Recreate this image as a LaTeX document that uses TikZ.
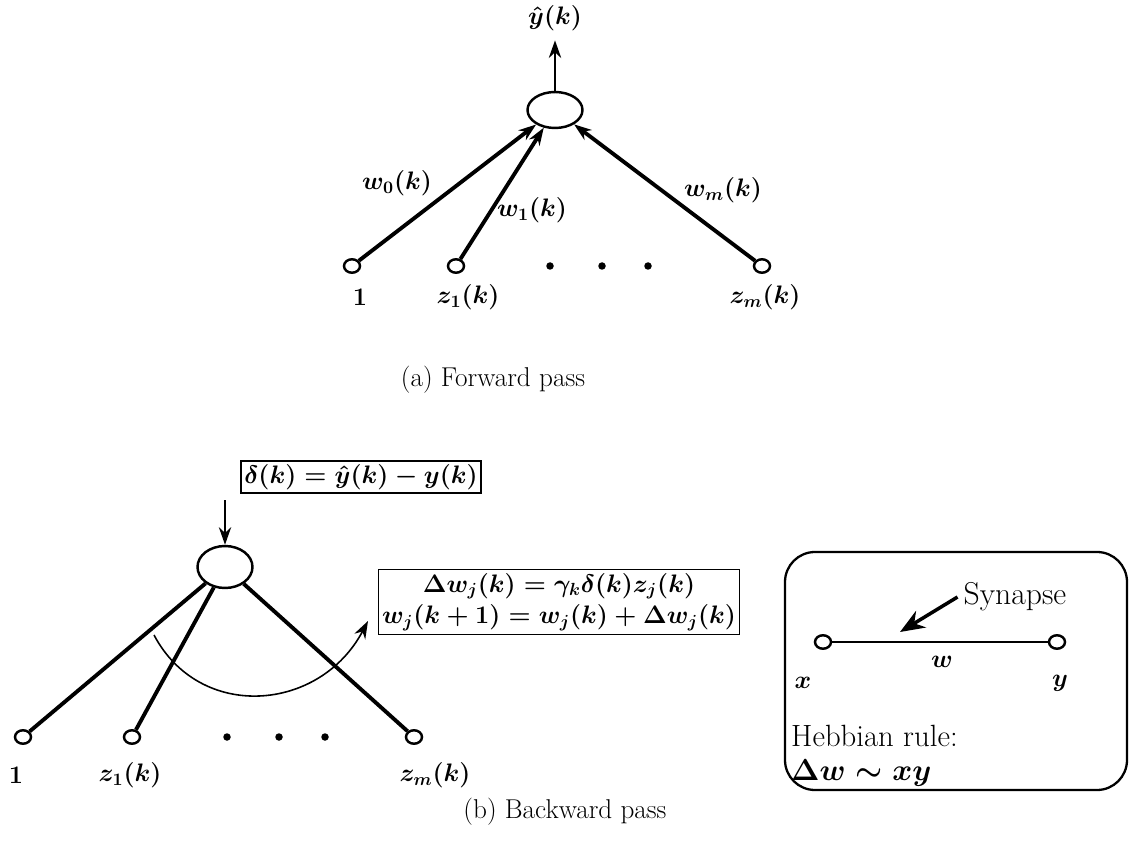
\documentclass[tikz,border=0pt]{standalone}
\usetikzlibrary{shapes.geometric,arrows.meta}
\tikzset{
    neuron/.style={draw, ellipse, line width=1.4pt, minimum width=1.1cm, minimum height=0.72cm, inner sep=0pt},
    inp/.style={draw, ellipse, line width=1.4pt, minimum width=0.32cm, minimum height=0.27cm, inner sep=0pt},
    blob/.style={circle, fill, inner sep=0pt, minimum size=0.15cm},
    link/.style={line width=2.2pt},
    eqbox/.style={draw, line width=1pt, inner sep=2pt},
    tip/.style={-{Stealth[length=10pt,width=7pt]}},
    caption/.style={font=\fontsize{15.5}{18}\selectfont}
}
\begin{document}
\begin{tikzpicture}[x=0.02cm, y=-0.02cm, every node/.style={font=\fontsize{14}{18}\selectfont\boldmath}]
    \useasboundingbox (0,0) rectangle (1130,841);

    %forward pass
    \node[neuron] (out) at (555,110) {};
    \node (yhat) at (555,18) {$\hat{y}(k)$};
    \draw[line width=1.6pt, tip, shorten >=2pt] (out) -- (yhat);

    \node[inp] (a0) at (352,266) {};
    \node[inp] (a1) at (456,266) {};
    \node[inp] (am) at (762,266) {};
    \foreach \x in {550,602,648}
        \node[blob] (ad\x) at (\x,266) {};

    \draw[link, tip] (a0) -- (out);
    \draw[link, tip] (a1) -- (out);
    \draw[link, tip] (am) -- (out);

    %labels
    \node (la0) at (360,297) {$1$};
    \node (la1) at (468,297) {$z_1(k)$};
    \node (lam) at (765,297) {$z_m(k)$};
    \node (w0) at (397,183) {$w_0(k)$};
    \node (w1) at (532,210) {$w_1(k)$};
    \node (wm) at (723,190) {$w_m(k)$};
    \node[caption] (capa) at (493,380) {(a) Forward pass};

    %backward pass
    \node[eqbox] (err) at (361,477) {$\delta(k)=\hat{y}(k)-y(k)$};
    \node[neuron, minimum height=0.84cm] (bout) at (225,567) {};
    \coordinate (errin) at (225,500);
    \draw[line width=1.2pt, tip] (errin) -- (bout);

    \node[inp] (b0) at (23,737) {};
    \node[inp] (b1) at (132,737) {};
    \node[inp] (bm) at (414,737) {};
    \foreach \x in {227,279,325}
        \node[blob] (bd\x) at (\x,737) {};

    \draw[link] (b0) -- (bout);
    \draw[link] (b1) -- (bout);
    \draw[link] (bm) -- (bout);

    \node[eqbox, align=center] (upd) at (559,602) {$\Delta w_j(k)=\gamma_k\delta(k)z_j(k)$\\ $w_j(k+1)=w_j(k)+\Delta w_j(k)$};
    \coordinate (arcs) at (154,635);
    \coordinate (arce) at (368,621);
    \draw[line width=0.9pt, tip] (arcs) .. controls (200,722) and (320,712) .. (arce);

    \node (lb0) at (16,775) {$1$};
    \node (lb1) at (130,775) {$z_1(k)$};
    \node (lbm) at (435,775) {$z_m(k)$};
    \node[caption] (capb) at (565,812) {(b) Backward pass};

    %hebbian rule
    \draw[line width=1.3pt, rounded corners=0.6cm] (785,552) rectangle (1127,790);
    \node[inp] (sx) at (823,642) {};
    \node[inp] (sy) at (1057,642) {};
    \draw[line width=1.2pt] (sx) -- (sy);
    \node (lw) at (942,662) {$w$};
    \node (lx) at (803,683) {$x$};
    \node (ly) at (1060,683) {$y$};
    \node[font=\fontsize{18}{20}\selectfont] (syn) at (1015,597) {Synapse};
    \coordinate (syntip) at (900,632);
    \draw[line width=2pt, -{Stealth[length=14pt,width=11pt]}] (syn.west) -- (syntip);
    \node[anchor=west, inner sep=0.5pt, font=\fontsize{17.5}{20}\selectfont] (hebb) at (790,736) {Hebbian rule:};
    \node[anchor=west, inner sep=0.5pt, font=\fontsize{16}{19}\selectfont\boldmath] (hebbeq) at (790,773) {$\Delta w\sim xy$};
\end{tikzpicture}
\end{document}
